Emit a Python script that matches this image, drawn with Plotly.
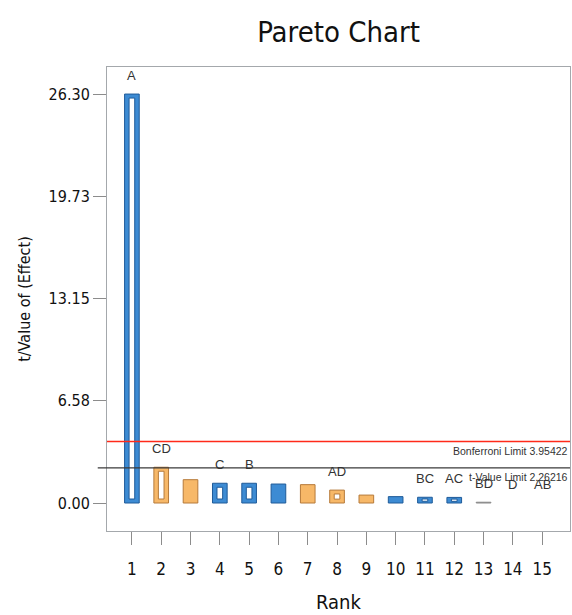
import plotly.graph_objects as go

# ---------------- data ----------------
ranks = list(range(1, 16))
t_values = [26.30, 2.30, 1.50, 1.27, 1.27, 1.22, 1.18, 0.83, 0.51, 0.41, 0.37, 0.36, 0.05, 0.0, 0.0]
effect_sign = ["+", "-", "-", "+", "+", "+", "-", "-", "-", "+", "+", "+", "0", "0", "0"]
hollow = [True, True, False, True, True, False, False, True, False, False, True, True, False, False, False]
term_labels = ["A", "CD", "", "C", "B", "", "", "AD", "", "", "BC", "AC", "BD", "D", "AB"]
y_tick_vals = [0.00, 6.58, 13.15, 19.73, 26.30]
y_tick_text = ["0.00", "6.58", "13.15", "19.73", "26.30"]
t_limit = 2.26216
bonferroni_limit = 3.95422

# ---------------- layout geometry / styles ----------------
W, H = 572, 615
ML, MR, MT, MB = 107, 2, 67, 84
X_RANGE = [0.15, 15.95]
Y_RANGE = [-1.8, 28.04]
ppu_x = (W - ML - MR) / (X_RANGE[1] - X_RANGE[0])
ppu_y = (H - MT - MB) / (Y_RANGE[1] - Y_RANGE[0])

BAR_W = 0.5
FILL = {"+": "#3d8bd3", "-": "#f7b868", "0": "#9a9a9a"}
EDGE = {"+": "#1f5b99", "-": "#b67a3a", "0": "#8a8a8a"}
COND = "DejaVu Sans Condensed, Liberation Sans Narrow, sans-serif"
ARIAL = "Liberation Sans, Arial, sans-serif"

fills, edges = [], []
for v, s in zip(t_values, effect_sign):
    if v <= 0:
        fills.append("rgba(0,0,0,0)")
        edges.append("rgba(0,0,0,0)")
    else:
        fills.append(FILL[s])
        edges.append(EDGE[s])

fig = go.Figure()
fig.add_trace(go.Bar(
    x=ranks, y=t_values, width=BAR_W,
    marker=dict(color=fills, line=dict(color=edges, width=1)),
    hoverinfo="x+y", showlegend=False,
))

# inner white boxes for hollow bars
inset_x = 4.5 / ppu_x
hx, hy, hb, he = [], [], [], []
for r, v, s, h in zip(ranks, t_values, effect_sign, hollow):
    if h and v > 0:
        iy = min(4.0 / ppu_y, v * 0.3)
        hx.append(r)
        hb.append(iy)
        hy.append(v - 2 * iy)
        he.append(EDGE[s])
fig.add_trace(go.Bar(
    x=hx, y=hy, base=hb, width=BAR_W - 2 * inset_x,
    marker=dict(color="white", line=dict(color=he, width=1)),
    hoverinfo="skip", showlegend=False,
))

# limit lines
fig.add_shape(type="line", xref="paper", yref="y", x0=0, x1=1,
              y0=bonferroni_limit, y1=bonferroni_limit,
              line=dict(color="#ff2a1a", width=1.3))
fig.add_shape(type="line", xref="paper", yref="y", x0=-0.02, x1=1,
              y0=t_limit, y1=t_limit,
              line=dict(color="#3a3a3a", width=1.3))
fig.add_annotation(xref="paper", yref="y", x=1, y=bonferroni_limit,
                   xanchor="right", yanchor="top", yshift=-1, showarrow=False,
                   text=f"Bonferroni Limit {bonferroni_limit:.5f}",
                   font=dict(family=ARIAL, size=10.5, color="#333333"))
fig.add_annotation(xref="paper", yref="y", x=1, y=t_limit,
                   xanchor="right", yanchor="top", yshift=-1, showarrow=False,
                   text=f"t-Value Limit {t_limit:.5f}",
                   font=dict(family=ARIAL, size=10.5, color="#333333"))

# term labels above bars
for r, v, lab in zip(ranks, t_values, term_labels):
    if lab:
        fig.add_annotation(x=r, y=v, yanchor="bottom", yshift=9, showarrow=False,
                           text=lab, font=dict(family=ARIAL, size=13, color="#333333"))

fig.update_layout(
    width=W, height=H,
    margin=dict(l=ML, r=MR, t=MT, b=MB, autoexpand=False),
    paper_bgcolor="white", plot_bgcolor="white",
    barmode="overlay",
    title=dict(text="Pareto Chart", x=0.5, xref="paper", y=1 - 32 / H,
               yanchor="middle", xanchor="center",
               font=dict(family=COND, size=29, color="#111111")),
    xaxis=dict(range=X_RANGE, tickmode="array", tickvals=ranks,
               ticktext=[str(r) for r in ranks], automargin=False,
               showgrid=False, zeroline=False,
               showline=True, mirror=True, linecolor="#a4a8ac", linewidth=1,
               ticks="outside", ticklen=13, tickcolor="#8c8c8c", tickwidth=1,
               ticklabelstandoff=10,
               tickfont=dict(family=COND, size=17, color="#111111"),
               title=dict(text="Rank", standoff=16,
                          font=dict(family=COND, size=20, color="#111111"))),
    yaxis=dict(range=Y_RANGE, tickmode="array", tickvals=y_tick_vals,
               ticktext=y_tick_text, automargin=False,
               showgrid=False, zeroline=False,
               showline=True, mirror=True, linecolor="#a4a8ac", linewidth=1,
               ticks="outside", ticklen=13, tickcolor="#8c8c8c", tickwidth=1,
               ticklabelstandoff=0,
               tickfont=dict(family=COND, size=16, color="#111111"),
               title=dict(text="t/Value of (Effect)", standoff=13,
                          font=dict(family=COND, size=16, color="#111111"))),
)

fig.write_html(
    "out.html",
    config={"displayModeBar": False},
    post_script="document.body.style.margin='0';"
                "document.documentElement.style.overflow='hidden';"
                "document.body.style.overflow='hidden';",
)
